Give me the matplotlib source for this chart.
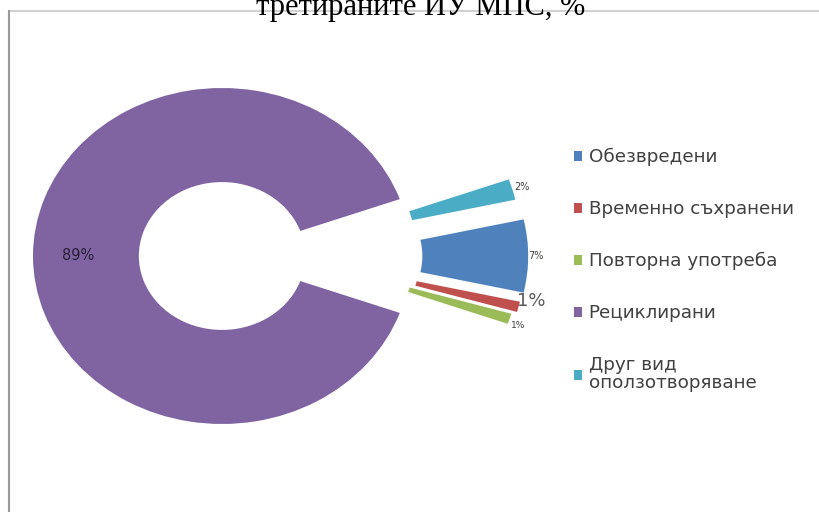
import numpy as np
import matplotlib
matplotlib.use("Agg")
import matplotlib.pyplot as plt
from matplotlib.lines import Line2D

categories = ['Обезвредени', 'Временно съхранени', 'Повторна употреба',
              'Рециклирани', 'Друг вид\nоползотворяване']
values = [7, 1, 1, 89, 2]
pct_labels = ['7%', '1%', '1%', '89%', '2%']
colors = ['#4F81BD', '#C0504D', '#9BBB59', '#8064A2', '#4BACC6']
title = 'третираните ИУ МПС, %'

W, H = 819, 512
fig = plt.figure(figsize=(W / 100, H / 100), dpi=100)
fig.patch.set_facecolor('white')

# axes covering whole figure; donut appears slightly wider than tall
ax = fig.add_axes([0, 0, 1, 1])
cx, cy = 222, 256          # pixel centre (y from top)
ax_px, ay_px = 189, 168    # pixels per unit radius

explode = [0.62, 0.62, 0.60, 0.0, 0.60]
# the reference's explosion is mostly horizontal: damp vertical offset
vdamp = [1.0, 0.35, 0.35, 1.0, 0.7]
wedges, _ = ax.pie(values, colors=colors, explode=explode, startangle=12.6,
                   counterclock=False, radius=1.0,
                   wedgeprops=dict(width=0.56, linewidth=0))
for w, k in zip(wedges, vdamp):
    x0, y0 = w.center
    w.set_center((x0, y0 * k))
ax.set_aspect('auto')
ax.set_xlim(-cx / ax_px, (W - cx) / ax_px)
ax.set_ylim(-(H - cy) / ay_px, cy / ay_px)
ax.axis('off')

# percentage labels
lab_dist = [1.04, 1.07, 1.05, 0.76, 1.05]
lab_size = [7, 13, 6.5, 10.5, 7]
lab_va = ['center', 'bottom', 'top', 'center', 'center']
lab_col = ['#404040', '#595959', '#404040', '#2a1f3a', '#404040']
for w, lab, d, s, c, va in zip(wedges, pct_labels, lab_dist, lab_size,
                               lab_col, lab_va):
    th = np.deg2rad((w.theta1 + w.theta2) / 2)
    x0, y0 = w.center
    ax.text(x0 + d * np.cos(th), y0 + d * np.sin(th), lab, ha='center',
            va=va, fontsize=s, color=c, family='DejaVu Sans')

# legend
leg = fig.legend(wedges, categories, loc='upper left',
                 bbox_to_anchor=(574 / W, 1 - 148 / H), frameon=False,
                 handlelength=0.45, handleheight=0.45,
                 handletextpad=0.35, labelspacing=1.85, borderpad=0,
                 borderaxespad=0, prop=dict(family='DejaVu Sans', size=13.2))
for t in leg.get_texts():
    t.set_color('#404040')
    t.set_linespacing(1.0)

# chart frame lines
fig.add_artist(Line2D([9 / W, 1], [1 - 11 / H, 1 - 11 / H],
                      transform=fig.transFigure, color='#c8c8c8', lw=1.2))
fig.add_artist(Line2D([9 / W, 9 / W], [0, 1 - 11 / H],
                      transform=fig.transFigure, color='#9a9a9a', lw=1.5))

# title (clipped at top like the reference)
fig.text(421 / W, 1 - 15 / H, title, ha='center', va='baseline',
         fontsize=22, family='Liberation Serif', color='black')

fig.savefig('out.png', dpi=100, facecolor='white')
